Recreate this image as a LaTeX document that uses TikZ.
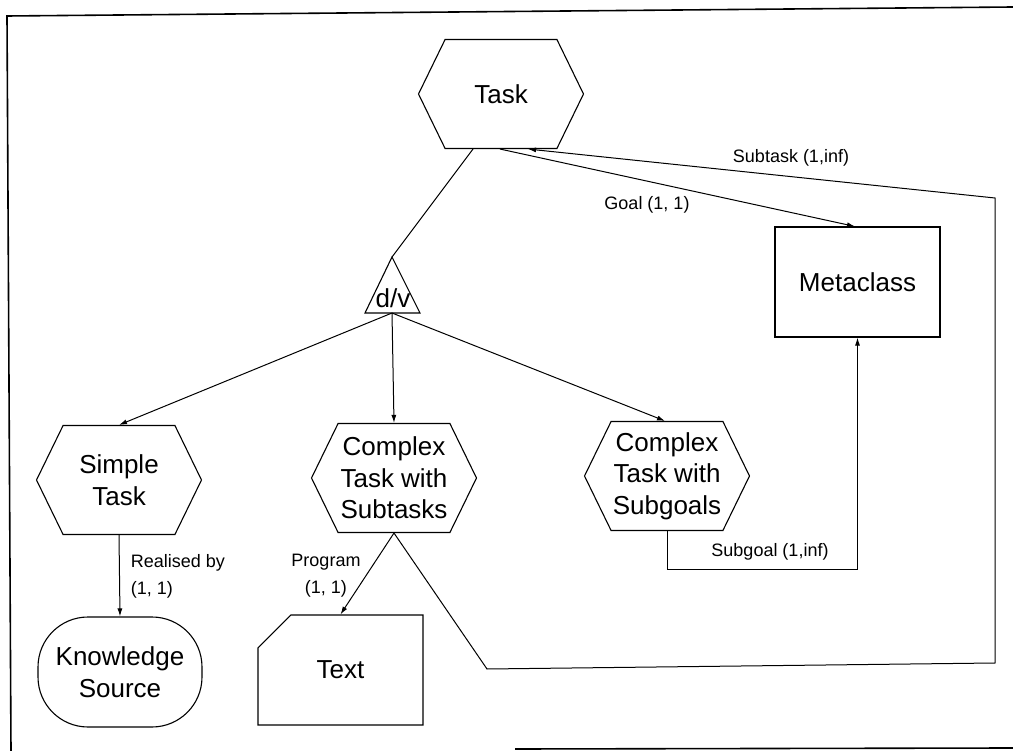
\documentclass[tikz,border=0pt]{standalone}
\usepackage{fontspec}
\setmainfont{Liberation Sans}
\usetikzlibrary{shapes.symbols,shapes.misc,arrows.meta,calc}
\begin{document}
\begin{tikzpicture}[x=1pt,y=-1pt,
  big/.style={font=\fontsize{26}{31.5}\selectfont, align=center},
  small/.style={font=\fontsize{18}{27}\selectfont},
  hexa/.style={draw, line width=1.1pt, signal, signal to=west and east, signal pointer angle=128,
    minimum width=165pt, minimum height=109pt, inner sep=0pt, big},
  box/.style={draw, line width=1.1pt, rectangle, minimum width=165pt, minimum height=110pt, inner sep=0pt, big},
  conn/.style={line width=1pt},
  arr/.style={conn, -{Latex[length=8pt,width=5pt]}},
  frame/.style={line width=1.6pt}]
\useasboundingbox (0,0) rectangle (1013,751);
% frame
\coordinate (f1) at (7,16);
\coordinate (f2) at (1013,7);
\coordinate (f3) at (11,751);
\coordinate (f4) at (515,749);
\coordinate (f5) at (1013,748);
\draw[frame] (f3) -- (f1) -- (f2);
\draw[frame] (f4) -- (f5);
% nodes
\node[hexa] (task) at (501,94) {Task};
\node[box] (meta) at (857.5,282) {Metaclass};
\node[hexa] (simple) at (119,480) {Simple\\Task};
\node[hexa] (subtasks) at (394,478) {Complex\\Task with\\Subtasks};
\node[hexa] (subgoals) at (667,476) {Complex\\Task with\\Subgoals};
\node[draw, line width=1.1pt, rectangle, rounded corners=50pt, minimum width=164pt, minimum height=110pt, inner sep=0pt, big] (know) at (120,672) {Knowledge\\Source};
\node[draw, line width=1.1pt, chamfered rectangle, chamfered rectangle corners=north west,
  chamfered rectangle xsep=28pt, chamfered rectangle ysep=28pt,
  minimum width=165pt, minimum height=110pt, inner sep=0pt, big] (text) at (340.5,670) {Text};
% d/v triangle
\coordinate (dvapex) at (392,257);
\coordinate (dvbase) at (392,313);
\draw[line width=1.1pt] (dvapex) -- (365,313) -- (420,313) -- cycle;
\node[font=\fontsize{26}{30}\selectfont, inner sep=0pt] (dv) at (393,298) {d/v};
% connectors
\draw[conn] ([xshift=-28pt]task.south) -- (dvapex);
\draw[arr] ([xshift=-1pt]task.south) -- ([xshift=-2.5pt]meta.north);
\coordinate (r1) at (487,669);
\coordinate (r2) at (995,663);
\coordinate (r3) at (995,198);
\draw[arr] (subtasks.south) -- (r1) -- (r2) -- (r3) -- ([xshift=27pt]task.south);
\draw[arr] (dvbase) -- (simple.north);
\draw[arr] (dvbase) -- (subtasks.north);
\draw[arr] (dvbase) -- ([xshift=-2pt]subgoals.north);
\draw[arr] (simple.south) -- (know.north);
\draw[arr] (subtasks.south) -- (text.north);
\coordinate (s1) at (667,569);
\draw[arr] (subgoals.south) -- (s1) -| (meta.south);
% labels
\node[small] (lgoal) at (647,205) {Goal (1, 1)};
\node[small] (lsubtask) at (791,158) {Subtask (1,inf)};
\node[small, align=left] (lreal) at (178,576) {Realised by\\(1, 1)};
\node[small, align=center] (lprog) at (326,576) {Program\\(1, 1)};
\node[small] (lsubgoal) at (770,552) {Subgoal (1,inf)};
\end{tikzpicture}
\end{document}
